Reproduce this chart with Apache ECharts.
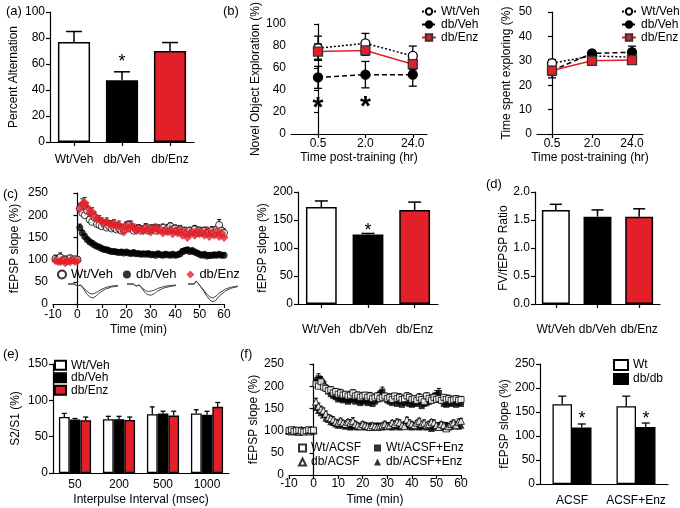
<!DOCTYPE html>
<html><head><meta charset="utf-8">
<script src="https://cdn.jsdelivr.net/npm/echarts@6/dist/echarts.min.js"></script>
<style>html,body{margin:0;padding:0;background:#fff}#c{width:680px;height:508px}</style>
</head><body><div id="c"></div>
<script>
// ---------- DATA ----------
const groups3 = ['Wt/Veh', 'db/Veh', 'db/Enz'];
// (a)
const aVals = [77, 47.5, 70];
const aErr = [8, 6.5, 6.5];
const aStar = [[1, 64]];
// (b)
const bTimes = ['0.5', '2.0', '24.0'];
const bNovelWt = [78, 82.5, 71];
const bNovelWtErr = [11, 9, 9];
const bNovelDb = [51.5, 54, 54];
const bNovelDbErr = [10, 12, 10.5];
const bNovelEnz = [75, 76, 63.5];
const bNovelEnzErr = [7, 4.5, 5];
const bStars = [[0, 30], [1, 31]];
const bSpentWt = [29, 32, 31.5];
const bSpentWtErr = [1.5, 1.5, 1.5];
const bSpentDb = [26, 33, 33.5];
const bSpentDbErr = [2, 1, 2.5];
const bSpentEnz = [26, 30, 30.3];
const bSpentEnzErr = [3, 1.5, 1.5];
// (c) time course
const cTime = [-9,-8,-7,-6,-5,-4,-3,-2,-1,0,
 1,2,3,4,5,6,7,8,9,10,11,12,13,14,15,16,17,18,19,20,
 21,22,23,24,25,26,27,28,29,30,31,32,33,34,35,36,37,38,39,40,
 41,42,43,44,45,46,47,48,49,50,51,52,53,54,55,56,57,58,59,60];
const cWt = [102,100,105,98,100,97,103,99,101,100,
 215,205,200,210,190,185,195,180,178,175,
 180,172,175,170,172,168,170,165,168,175,
 178,170,165,168,170,165,168,172,165,170,
 168,165,170,168,172,165,170,175,168,170,
 165,168,162,165,160,165,162,168,160,165,
 162,165,160,162,165,160,168,178,165,160];
const cWtErr = [8,5,10,4,6,5,7,4,5,4,
 12,10,14,10,12,8,10,8,9,8,
 9,8,10,7,8,9,8,8,7,10,
 9,8,7,8,9,8,7,9,8,8,
 9,7,8,9,8,7,9,8,7,8,
 9,8,7,8,9,8,7,9,8,8,
 9,8,7,8,9,8,7,12,8,9];
const cDb = [100,101,99,100,102,98,100,101,99,100,
 172,160,152,145,140,137,133,130,128,125,
 123,122,120,118,118,117,116,117,115,117,
 115,114,116,113,114,112,113,112,114,111,
 112,110,113,111,110,112,111,110,112,110,
 111,113,118,120,122,118,120,117,115,112,
 110,112,108,110,109,111,110,112,110,110];
const cDbErr = [4,3,4,3,3,4,3,3,4,3,
 8,6,6,5,5,5,4,4,5,4,
 4,5,4,4,5,4,4,5,4,4,
 5,4,4,5,4,4,5,4,4,5,
 4,4,5,4,4,5,4,4,5,4,
 4,5,6,6,5,5,6,5,4,4,
 5,4,4,5,4,4,5,4,4,5];
const cEnz = [98,96,95,100,93,97,95,99,96,97,
 215,225,228,218,205,208,198,192,190,186,
 182,185,180,178,182,175,178,172,162,175,
 170,178,172,165,170,168,165,172,168,162,
 170,172,165,168,160,165,162,168,158,165,
 160,168,155,162,150,158,162,155,165,158,
 160,155,165,152,160,155,165,152,160,150];
const cEnzErr = [6,5,6,5,6,5,6,5,5,5,
 10,12,12,10,10,9,9,8,9,8,
 8,9,8,10,8,8,9,8,8,9,
 8,9,8,8,9,8,8,9,8,8,
 9,8,8,9,8,8,9,8,8,9,
 8,9,8,8,9,8,8,9,8,8,
 9,8,8,9,8,8,9,8,8,9];
// (c) inset traces
const trX = [0,2,2.6,3,3.4,4,5,6,7,8,9,10,12,14,16];
const tr1Pre = [0,0,2,-2,0,-1,-4,-7,-9.5,-10,-8.5,-6.5,-3.5,-2,-1.5];
const tr1Post = [0,0,2,-2,0,-1,-5,-10,-13,-14,-12,-9,-5,-3,-2];
const tr2Pre = [0,0,2,-2,0,-1,-4,-6.5,-7.5,-7,-6,-4.5,-2.5,-1.5,-1];
const tr2Post = [0,0,2,-2,0,-1,-5,-9,-11,-11,-9.5,-7,-4,-2.5,-1.5];
const tr3Pre = [0,0,3,1,0,-2,-6,-10,-13,-14,-12,-9,-5,-3,-2];
const tr3Post = [0,0,3,1,0,-2,-7,-12,-16,-18,-16,-12,-7,-4,-2.5];
// (c) right bars
const cBarVals = [173, 124, 168];
const cBarErr = [11, 2, 14];
const cBarStar = [[1, 136]];
// (d)
const dVals = [1.68, 1.56, 1.56];
const dErr = [0.10, 0.12, 0.14];
// (e)
const eIntervals = ['50', '200', '500', '1000'];
const eWt = [77, 74, 81, 82];
const eWtErr = [5, 4, 10, 5];
const eDb = [73.5, 74, 82, 80];
const eDbErr = [1.5, 4, 3, 5];
const eEnz = [72.5, 73, 79, 91];
const eEnzErr = [4.5, 4, 6, 6];
// (f) time course
const fTime = [-10,-9,-8,-7,-6,-5,-4,-3,-2,-1,0,
 1,2,3,4,5,6,7,8,9,10,11,12,13,14,15,16,17,18,19,20,
 21,22,23,24,25,26,27,28,29,30,31,32,33,34,35,36,37,38,39,40,
 41,42,43,44,45,46,47,48,49,50,51,52,53,54,55,56,57,58,59,60];
const fWtACSF = [100,102,98,100,101,99,97,100,102,100,101,
 205,200,210,198,195,190,192,185,188,182,
 185,180,182,178,180,185,178,180,175,178,
 180,175,178,172,175,178,172,175,178,172,
 175,170,178,172,175,170,172,178,175,170,
 172,168,175,170,165,178,172,168,175,170,
 172,168,175,170,172,168,170,172,168,170];
const fWtACSFErr = [5,4,5,4,5,4,5,4,5,4,5,
 10,8,12,9,8,8,7,8,7,7,
 8,7,6,7,8,7,6,7,8,7,
 6,7,8,7,6,7,8,7,6,7,
 8,7,6,7,8,7,6,7,8,7,
 6,7,8,7,6,7,8,7,6,7,
 8,7,6,7,8,7,6,7,8,7];
const fWtEnz = [98,100,102,99,100,98,101,100,97,99,100,
 210,218,212,205,195,188,182,178,175,170,
 172,168,170,165,168,172,165,168,162,165,
 168,162,165,160,165,170,182,188,175,168,
 165,162,168,160,165,158,162,165,160,158,
 162,160,165,155,160,162,165,170,175,180,
 185,170,160,158,162,160,165,158,162,160];
const fWtEnzErr = [4,5,4,5,4,5,4,5,4,5,4,
 9,10,8,8,7,7,6,7,6,6,
 7,6,7,6,7,6,7,6,7,6,
 7,6,7,6,7,6,8,10,7,6,
 7,6,7,6,7,6,7,6,7,6,
 7,6,7,6,7,6,7,8,9,10,
 10,8,7,6,7,6,7,6,7,6];
const fDbACSF = [100,98,102,100,97,101,99,100,98,102,100,
 165,155,148,145,138,130,128,125,120,118,
 122,118,115,120,118,122,115,112,110,115,
 112,110,108,112,110,108,110,112,115,110,
 112,118,115,120,118,112,110,125,118,115,
 112,118,122,115,118,112,115,120,118,112,
 108,115,112,105,110,115,118,112,120,122];
const fDbACSFErr = [4,5,4,5,4,5,4,5,4,5,4,
 8,7,7,6,6,6,5,6,5,5,
 6,5,6,5,6,7,6,5,6,5,
 6,5,6,5,6,5,6,5,6,5,
 6,5,7,6,6,5,6,5,6,5,
 6,5,6,5,6,5,6,5,6,5,
 6,5,6,5,6,5,6,5,6,5];
const fDbEnz = [99,101,100,98,100,102,99,100,101,98,100,
 152,145,140,135,128,125,120,118,115,112,
 115,112,110,112,108,110,112,108,110,112,
 108,110,112,108,110,112,110,108,110,112,
 110,108,112,110,108,112,115,110,112,108,
 110,112,108,110,112,108,110,105,108,110,
 112,108,110,112,108,110,112,115,110,112];
const fDbEnzErr = [4,4,5,4,4,5,4,4,5,4,4,
 7,6,6,6,5,5,5,5,5,5,
 5,6,5,5,6,5,5,6,5,5,
 6,5,5,6,5,5,6,5,5,6,
 5,5,6,5,5,6,5,5,6,5,
 5,6,5,5,6,5,5,6,5,5,
 6,5,5,6,5,5,6,5,5,6];
// (f) right bars
const fConds = ['ACSF', 'ACSF+Enz'];
const fWtBar = [166, 162];
const fWtBarErr = [17, 21];
const fDbBar = [117.5, 118.5];
const fDbBarErr = [7.5, 8.5];
const fStars = [[0, 142], [1, 142]];

// ---------- STYLE HELPERS ----------
const FONT = '"Liberation Sans", Arial, sans-serif';
const RED = '#e3202a';
const BLK = '#000';
const barColors = ['#ffffff', '#000000', RED];

function yAx(grid, min, max, interval, name, nameGap, fmt) {
  return {
    type: 'value', gridIndex: grid, min, max, interval, name, nameLocation: 'middle', nameGap,
    nameTextStyle: {color: BLK, fontSize: 12, fontFamily: FONT},
    axisLine: {show: true, lineStyle: {color: BLK, width: 1.2}},
    axisTick: {show: true, length: 4, lineStyle: {color: BLK, width: 1.2}},
    axisLabel: {color: BLK, fontSize: 12, fontFamily: FONT, margin: 5, formatter: fmt},
    splitLine: {show: false}
  };
}
function xCat(grid, data, margin, ticks, name, nameGap) {
  return {
    type: 'category', gridIndex: grid, data, name, nameLocation: 'middle', nameGap,
    nameTextStyle: {color: BLK, fontSize: 12, fontFamily: FONT},
    axisLine: {show: true, lineStyle: {color: BLK, width: 1.2}},
    axisTick: {show: ticks, alignWithLabel: true, length: 4, lineStyle: {color: BLK, width: 1.2}},
    axisLabel: {color: BLK, fontSize: 12, fontFamily: FONT, margin, interval: 0},
    splitLine: {show: false}
  };
}
function xVal(grid, min, max, interval, margin, name, nameGap, extraLabel, extraTick) {
  return {
    type: 'value', gridIndex: grid, min, max, interval, name, nameLocation: 'middle', nameGap,
    nameTextStyle: {color: BLK, fontSize: 12, fontFamily: FONT},
    axisLine: {show: true, onZero: false, lineStyle: {color: BLK, width: 1.2}},
    axisTick: Object.assign({show: true, length: 4, lineStyle: {color: BLK, width: 1.2}}, extraTick || {}),
    axisLabel: Object.assign({color: BLK, fontSize: 12, fontFamily: FONT, margin}, extraLabel || {}),
    splitLine: {show: false}
  };
}
function hiddenAx(grid, min, max) {
  return {type: 'value', gridIndex: grid, min, max, show: false, splitLine: {show: false}};
}
function errRender(cap, both, color, lw, offFrac) {
  return function (params, api) {
    const x = api.value(0), y = api.value(1), e = api.value(2);
    const p = api.coord([x, y]);
    const t = api.coord([x, y + e]);
    const off = offFrac ? api.size([1, 0])[0] * offFrac : 0;
    const cx = p[0] + off, h = cap / 2;
    const st = {stroke: color, lineWidth: lw};
    const ch = [
      {type: 'line', shape: {x1: cx, y1: p[1], x2: cx, y2: t[1]}, style: st},
      {type: 'line', shape: {x1: cx - h, y1: t[1], x2: cx + h, y2: t[1]}, style: st}
    ];
    if (both) {
      const b = api.coord([x, y - e]);
      ch.push({type: 'line', shape: {x1: cx, y1: p[1], x2: cx, y2: b[1]}, style: st});
      ch.push({type: 'line', shape: {x1: cx - h, y1: b[1], x2: cx + h, y2: b[1]}, style: st});
    }
    return {type: 'group', children: ch};
  };
}
function errSeries(ax, xs, ys, es, cap, both, color, lw, offFrac, z) {
  return {
    type: 'custom', xAxisIndex: ax, yAxisIndex: ax, silent: true, z: z || 3, clip: false,
    encode: {x: 0, y: 1},
    data: ys.map((v, i) => [xs[i], v, es[i]]),
    renderItem: errRender(cap, both, color, lw, offFrac)
  };
}
function starSeries(ax, data, size, dx, dy, weight) {
  return {
    type: 'custom', xAxisIndex: ax, yAxisIndex: ax, silent: true, z: 6, clip: false,
    encode: {x: 0, y: 1}, data,
    renderItem: (params, api) => {
      const p = api.coord([api.value(0), api.value(1)]);
      return {type: 'text', x: p[0] + (dx || 0), y: p[1] + (dy || 0),
        style: {text: '*', fontSize: size, fontWeight: weight || 'normal', fontFamily: FONT, fill: BLK,
          align: 'center', verticalAlign: 'middle'}};
    }
  };
}
const idx3 = [0, 1, 2];
const idx4 = [0, 1, 2, 3];
const idx2 = [0, 1];
function pairs(xs, ys) { return ys.map((v, i) => [xs[i], v]); }

function lineSer(ax, name, ys, lineType, color, symbol, fill, border) {
  return {
    type: 'line', name, xAxisIndex: ax, yAxisIndex: ax, data: pairs(idx3, ys), z: 4,
    symbol, symbolSize: 9,
    lineStyle: {color, width: 1.5, type: lineType},
    itemStyle: {color: fill, borderColor: border, borderWidth: 1.3}
  };
}
function scatSer(ax, name, xs, ys, symbol, size, fill, border, bw) {
  return {
    type: 'scatter', name, xAxisIndex: ax, yAxisIndex: ax, data: pairs(xs, ys), z: 4,
    symbol, symbolSize: size,
    itemStyle: {color: fill, borderColor: border, borderWidth: bw}
  };
}
function traceSer(ax, ys) {
  return {type: 'line', xAxisIndex: ax, yAxisIndex: ax, data: pairs(trX, ys), symbol: 'none',
    lineStyle: {color: '#444', width: 1}, silent: true, z: 2};
}
const strip = n => n.split('|')[0];
function legend(left, top, orient, names, opts) {
  return Object.assign({
    left, top, orient, data: names, padding: 0, formatter: strip, selectedMode: false,
    itemGap: 0, itemWidth: 12, itemHeight: 9,
    textStyle: {color: BLK, fontSize: 12, fontFamily: FONT, lineHeight: 13}
  }, opts || {});
}

// ---------- OPTION ----------
const option = {
  animation: false,
  backgroundColor: '#fff',
  grid: [
    {left: 50, top: 12, width: 144, height: 130},   // a
    {left: 291, top: 12, width: 136, height: 122},  // b1
    {left: 537, top: 12, width: 106, height: 122},  // b2
    {left: 53, top: 193, width: 171, height: 111},  // c1
    {left: 298, top: 192, width: 140, height: 112}, // c2
    {left: 535, top: 192, width: 125, height: 112}, // d
    {left: 53, top: 364, width: 176, height: 109},  // e
    {left: 289, top: 364, width: 172, height: 111}, // f1
    {left: 540, top: 364, width: 128, height: 120}, // f2
    {left: 68, top: 280, width: 50, height: 24},    // trace1
    {left: 127, top: 280, width: 49, height: 24},   // trace2
    {left: 188, top: 280, width: 50, height: 24}    // trace3
  ],
  xAxis: [
    xCat(0, groups3, 12, true),
    xVal(1, -0.57, 2.3, null, 4, 'Time post-training (hr)', 18,
      {customValues: idx3, formatter: v => bTimes[Math.round(v)]}, {customValues: idx3}),
    xVal(2, -0.375, 2.275, null, 4, 'Time post-training (hr)', 18,
      {customValues: idx3, formatter: v => bTimes[Math.round(v)]}, {customValues: idx3}),
    xVal(3, -10, 60, 10, 5, 'Time (min)', 20),
    xCat(4, groups3, 20, true),
    xCat(5, groups3, 20, true),
    xCat(6, eIntervals, 6, false, 'Interpulse Interval (msec)', 21),
    xVal(7, -10, 60, 10, 3, 'Time (min)', 19),
    xCat(8, fConds, 11, false),
    hiddenAx(9, 0, 16), hiddenAx(10, 0, 16), hiddenAx(11, 0, 16)
  ],
  yAxis: [
    yAx(0, 0, 100, 20, 'Percent Alternation', 30),
    yAx(1, 0, 100, 20, 'Novel Object Exploration (%)', 18),
    yAx(2, 0, 50, 10, 'Time spent exploring (%)', 24),
    yAx(3, 0, 250, 50, 'fEPSP slope (%)', 32),
    yAx(4, 0, 200, 50, 'fEPSP slope (%)', 23),
    yAx(5, 0, 2, 0.5, 'FV/fEPSP Ratio', 23, v => v.toFixed(1)),
    yAx(6, 0, 150, 50, 'S2/S1 (%)', 31),
    yAx(7, 0, 250, 50, 'fEPSP slope (%)', 27),
    yAx(8, 0, 250, 50, 'fEPSP slope (%)', 29),
    hiddenAx(9, -20, 4), hiddenAx(10, -20, 4), hiddenAx(11, -20, 4)
  ],
  legend: [
    legend(421, 5, 'vertical', ['Wt/Veh|b1', 'db/Veh|b1', 'db/Enz|b1'], {itemWidth: 14, itemHeight: 8}),
    legend(621, 5, 'vertical', ['Wt/Veh|b2', 'db/Veh|b2', 'db/Enz|b2'], {itemWidth: 14, itemHeight: 8}),
    legend(57, 268, 'horizontal', ['Wt/Veh|c', 'db/Veh|c', 'db/Enz|c'],
      {itemGap: 10, itemWidth: 8, itemHeight: 8, textStyle: {color: BLK, fontSize: 13, fontFamily: FONT}}),
    legend(54, 359, 'vertical', ['Wt/Veh|e', 'db/Veh|e', 'db/Enz|e'],
      {icon: 'rect', itemWidth: 11, itemHeight: 9, textStyle: {color: BLK, fontSize: 12, fontFamily: FONT, lineHeight: 12.5}}),
    legend(298, 441, 'vertical', ['Wt/ACSF|f', 'db/ACSF|f'],
      {itemWidth: 7, itemHeight: 7, textStyle: {color: BLK, fontSize: 12, fontFamily: FONT, lineHeight: 14}}),
    legend(374, 441, 'vertical', ['Wt/ACSF+Enz|f', 'db/ACSF+Enz|f'],
      {itemWidth: 7, itemHeight: 7, textStyle: {color: BLK, fontSize: 12, fontFamily: FONT, lineHeight: 14}}),
    legend(613, 358, 'vertical', ['Wt|f2', 'db/db|f2'],
      {icon: 'rect', itemWidth: 14, itemHeight: 10, textStyle: {color: BLK, fontSize: 12, fontFamily: FONT, lineHeight: 14}})
  ],
  graphic: [
    {type: 'text', left: 6, top: 5, style: {text: '(a)', fontSize: 13, fontFamily: FONT, fill: BLK}},
    {type: 'text', left: 223, top: 5, style: {text: '(b)', fontSize: 13, fontFamily: FONT, fill: BLK}},
    {type: 'text', left: 3, top: 188, style: {text: '(c)', fontSize: 13, fontFamily: FONT, fill: BLK}},
    {type: 'text', left: 486, top: 178, style: {text: '(d)', fontSize: 13, fontFamily: FONT, fill: BLK}},
    {type: 'text', left: 3, top: 348, style: {text: '(e)', fontSize: 13, fontFamily: FONT, fill: BLK}},
    {type: 'text', left: 240, top: 348, style: {text: '(f)', fontSize: 13, fontFamily: FONT, fill: BLK}}
  ],
  series: [
    // (a)
    {type: 'bar', xAxisIndex: 0, yAxisIndex: 0, barWidth: '67%', z: 2,
      itemStyle: {borderColor: BLK, borderWidth: 1.5},
      data: aVals.map((v, i) => ({value: v, itemStyle: {color: barColors[i]}}))},
    errSeries(0, idx3, aVals, aErr, 16, false, BLK, 1.5),
    starSeries(0, aStar, 18, 0, 3),
    // (b) left
    errSeries(1, idx3, bNovelDb, bNovelDbErr, 8, true, BLK, 1.3),
    errSeries(1, idx3, bNovelWt, bNovelWtErr, 8, true, BLK, 1.3),
    errSeries(1, idx3, bNovelEnz, bNovelEnzErr, 8, true, BLK, 1.3),
    lineSer(1, 'db/Veh|b1', bNovelDb, [5, 3], BLK, 'circle', BLK, BLK),
    lineSer(1, 'Wt/Veh|b1', bNovelWt, [2, 2], BLK, 'circle', '#fff', BLK),
    lineSer(1, 'db/Enz|b1', bNovelEnz, 'solid', RED, 'rect', RED, '#333'),
    starSeries(1, bStars, 28, 0, 7, 'bold'),
    // (b) right
    errSeries(2, idx3, bSpentDb, bSpentDbErr, 8, true, BLK, 1.3),
    errSeries(2, idx3, bSpentWt, bSpentWtErr, 8, true, BLK, 1.3),
    errSeries(2, idx3, bSpentEnz, bSpentEnzErr, 8, true, BLK, 1.3),
    lineSer(2, 'Wt/Veh|b2', bSpentWt, [2, 2], BLK, 'circle', '#fff', BLK),
    lineSer(2, 'db/Veh|b2', bSpentDb, [5, 3], BLK, 'circle', BLK, BLK),
    lineSer(2, 'db/Enz|b2', bSpentEnz, 'solid', RED, 'rect', RED, '#333'),
    // (c) left
    errSeries(3, cTime, cDb, cDbErr, 4, false, BLK, 1),
    errSeries(3, cTime, cWt, cWtErr, 4, false, BLK, 1),
    errSeries(3, cTime, cEnz, cEnzErr, 4, false, '#333', 1),
    scatSer(3, 'db/Veh|c', cTime, cDb, 'circle', 7, BLK, BLK, 0),
    scatSer(3, 'Wt/Veh|c', cTime, cWt, 'circle', 7, '#fff', BLK, 1),
    scatSer(3, 'db/Enz|c', cTime, cEnz, 'diamond', 9, RED, RED, 0),
    traceSer(9, tr1Pre), traceSer(9, tr1Post),
    traceSer(10, tr2Pre), traceSer(10, tr2Post),
    traceSer(11, tr3Pre), traceSer(11, tr3Post),
    // (c) right
    {type: 'bar', xAxisIndex: 4, yAxisIndex: 4, barWidth: '66%', z: 2,
      itemStyle: {borderColor: BLK, borderWidth: 1.5},
      data: cBarVals.map((v, i) => ({value: v, itemStyle: {color: barColors[i]}}))},
    errSeries(4, idx3, cBarVals, cBarErr, 13, false, BLK, 1.5),
    starSeries(4, cBarStar, 18, 0, 3),
    // (d)
    {type: 'bar', xAxisIndex: 5, yAxisIndex: 5, barWidth: '67%', z: 2,
      itemStyle: {borderColor: BLK, borderWidth: 1.5},
      data: dVals.map((v, i) => ({value: v, itemStyle: {color: barColors[i]}}))},
    errSeries(5, idx3, dVals, dErr, 12, false, BLK, 1.5),
    // (e)
    {type: 'bar', name: 'Wt/Veh|e', xAxisIndex: 6, yAxisIndex: 6, data: eWt, barGap: '0%', barCategoryGap: '27%', z: 2,
      itemStyle: {color: '#fff', borderColor: BLK, borderWidth: 1.3}},
    {type: 'bar', name: 'db/Veh|e', xAxisIndex: 6, yAxisIndex: 6, data: eDb, barGap: '0%', barCategoryGap: '27%', z: 2,
      itemStyle: {color: BLK, borderColor: BLK, borderWidth: 1.3}},
    {type: 'bar', name: 'db/Enz|e', xAxisIndex: 6, yAxisIndex: 6, data: eEnz, barGap: '0%', barCategoryGap: '27%', z: 2,
      itemStyle: {color: RED, borderColor: BLK, borderWidth: 1.3}},
    errSeries(6, idx4, eWt, eWtErr, 5, false, BLK, 1.3, -0.2433),
    errSeries(6, idx4, eDb, eDbErr, 5, false, BLK, 1.3, 0),
    errSeries(6, idx4, eEnz, eEnzErr, 5, false, BLK, 1.3, 0.2433),
    // (f) left
    errSeries(7, fTime, fDbEnz, fDbEnzErr, 4, false, BLK, 1),
    errSeries(7, fTime, fWtEnz, fWtEnzErr, 4, false, BLK, 1),
    errSeries(7, fTime, fDbACSF, fDbACSFErr, 4, false, BLK, 1),
    errSeries(7, fTime, fWtACSF, fWtACSFErr, 4, false, BLK, 1),
    scatSer(7, 'db/ACSF+Enz|f', fTime, fDbEnz, 'triangle', 7, BLK, BLK, 0),
    scatSer(7, 'Wt/ACSF+Enz|f', fTime, fWtEnz, 'rect', 6, BLK, BLK, 0),
    scatSer(7, 'db/ACSF|f', fTime, fDbACSF, 'triangle', 7, '#fff', BLK, 1),
    scatSer(7, 'Wt/ACSF|f', fTime, fWtACSF, 'rect', 6, '#fff', BLK, 1),
    // (f) right
    {type: 'bar', name: 'Wt|f2', xAxisIndex: 8, yAxisIndex: 8, data: fWtBar, barGap: '0%', barCategoryGap: '39%', z: 2,
      itemStyle: {color: '#fff', borderColor: BLK, borderWidth: 1.3}},
    {type: 'bar', name: 'db/db|f2', xAxisIndex: 8, yAxisIndex: 8, data: fDbBar, barGap: '0%', barCategoryGap: '39%', z: 2,
      itemStyle: {color: BLK, borderColor: BLK, borderWidth: 1.3}},
    errSeries(8, idx2, fWtBar, fWtBarErr, 8, false, BLK, 1.3, -0.1525),
    errSeries(8, idx2, fDbBar, fDbBarErr, 8, false, BLK, 1.3, 0.1525),
    starSeries(8, fStars, 18, 10, 3)
  ]
};
const chart = echarts.init(document.getElementById('c'), null, {width: 680, height: 508});
chart.setOption(option);
</script></body></html>
